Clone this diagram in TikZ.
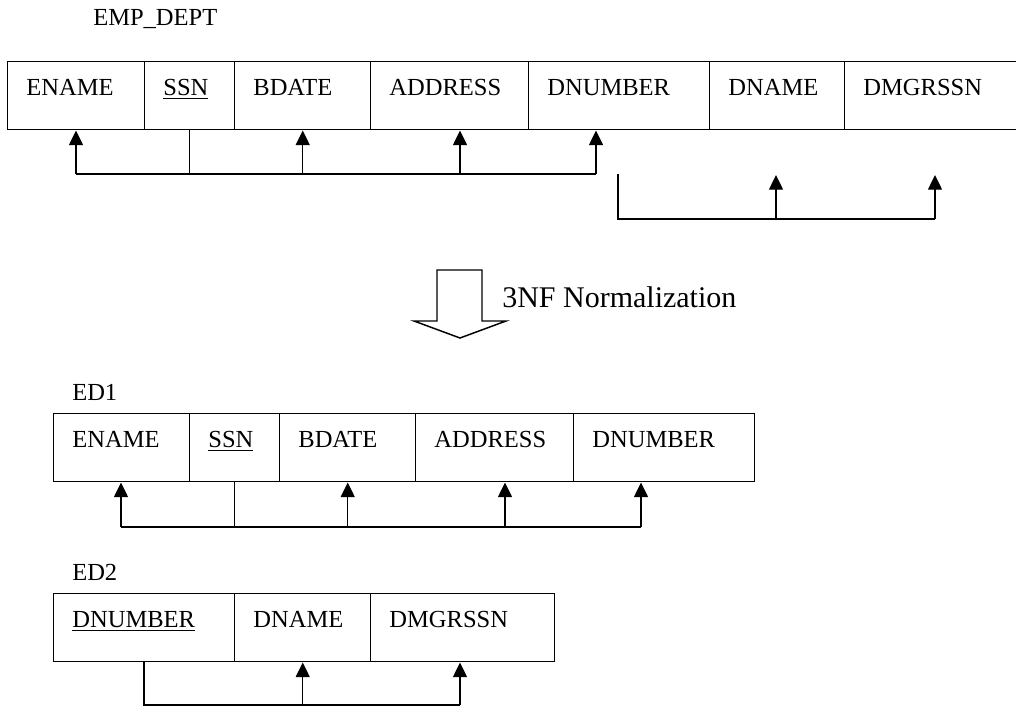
\documentclass[tikz,border=0pt]{standalone}
\usepackage{fontspec}
\setmainfont{Liberation Serif}
\usetikzlibrary{arrows.meta}

\begin{document}
\begin{tikzpicture}[
      x=0.75pt, y=-0.75pt,
      font=\fontsize{18.4}{22}\selectfont,
      cell/.style={draw, anchor=north west, align=left, text width=#1,
                   inner xsep=14pt, text height=9pt, text depth=9pt,
                   minimum height=51pt, line width=1.1pt},
      rel/.style={anchor=base west, inner sep=0pt},
      fd/.style={line width=1pt},
      >={Triangle[width=10.5pt, length=11pt]}]

    \useasboundingbox (0,0) rectangle (1016,707);

    % EMP_DEPT
    \node[rel] (empdept) at (93,25) {EMP\_DEPT};
    \node[cell=74.75pt] (ename) at (7,61) {ENAME};
    \node[cell=39.5pt] (ssn) at (144,61) {\underline{SSN}};
    \node[cell=74pt] (bdate) at (234,61) {BDATE};
    \node[cell=90.5pt] (address) at (370,61) {ADDRESS};
    \node[cell=107.75pt] (dnumber) at (528,61) {DNUMBER};
    \node[cell=73.25pt] (dname) at (709,61) {DNAME};
    \node[cell=110pt] (dmgrssn) at (844,61) {DMGRSSN};

    \coordinate (b1l) at (76,174);
    \coordinate (b1a) at (460,174);
    \coordinate (b1r) at (596,174);
    \draw[fd] (b1l) -- (b1r);
    \draw[fd] (ssn.south) -- (ssn.south |- b1l);
    \draw[fd, ->] (b1l) -- (b1l |- ename.south);
    \draw[fd, ->] (bdate.south |- b1l) -- (bdate.south);
    \draw[fd, ->] (b1a) -- (b1a |- address.south);
    \draw[fd, ->] (b1r) -- (b1r |- dnumber.south);

    % the second dependency stops short of the table
    \coordinate (b2l) at (618,219);
    \coordinate (b2m) at (776,219);
    \coordinate (b2r) at (935,219);
    \draw[fd] (b2l |- b1l) -- (b2l) -- (b2r);
    \draw[fd, ->] (b2m) -- ++(0,-44);
    \draw[fd, ->] (b2r) -- ++(0,-44);

    % normalization step
    \draw[line width=1.1pt] (437,270) -- (482,270) -- (482,321) -- (506,321)
      -- (460,338) -- (414,321) -- (437,321) -- cycle;
    \node[rel, font=\fontsize{22.5}{27}\selectfont] (step3nf) at (502,307)
      {3NF Normalization};

    % ED1
    \node[rel] (ed1) at (72,400) {ED1};
    \node[cell=74pt] (aname) at (53,413) {ENAME};
    \node[cell=39.5pt] (assn) at (189,413) {\underline{SSN}};
    \node[cell=74pt] (abdate) at (279,413) {BDATE};
    \node[cell=90.5pt] (aaddress) at (415,413) {ADDRESS};
    \node[cell=107.75pt] (adnumber) at (573,413) {DNUMBER};

    \coordinate (b3l) at (121,527);
    \coordinate (b3a) at (505,527);
    \coordinate (b3r) at (641,527);
    \draw[fd] (b3l) -- (b3r);
    \draw[fd] (assn.south) -- (assn.south |- b3l);
    \draw[fd, ->] (b3l) -- (b3l |- aname.south);
    \draw[fd, ->] (abdate.south |- b3l) -- (abdate.south);
    \draw[fd, ->] (b3a) -- (b3a |- aaddress.south);
    \draw[fd, ->] (b3r) -- (b3r |- adnumber.south);

    % ED2
    \node[rel] (ed2) at (72,580) {ED2};
    \node[cell=107.75pt] (bdnumber) at (53,593) {\underline{DNUMBER}};
    \node[cell=74pt] (bdname) at (234,593) {DNAME};
    \node[cell=110pt] (bdmgrssn) at (370,593) {DMGRSSN};

    \coordinate (b4l) at (144,705);
    \coordinate (b4r) at (460,705);
    \draw[fd] (b4l |- bdnumber.south) -- (b4l) -- (b4r);
    \draw[fd, ->] (bdname.south |- b4l) -- (bdname.south);
    \draw[fd, ->] (b4r) -- (b4r |- bdmgrssn.south);
\end{tikzpicture}
\end{document}
